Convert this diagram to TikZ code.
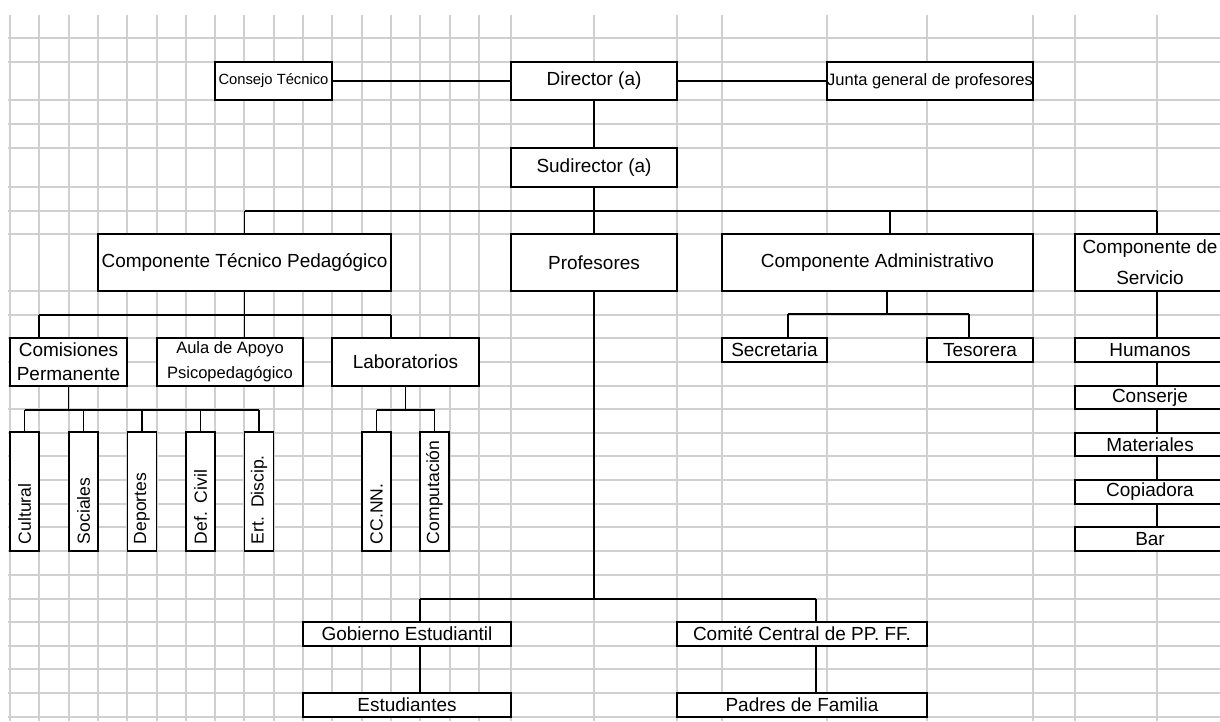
\documentclass[tikz,border=0pt]{standalone}
\usepackage{fontspec}
\setmainfont{Liberation Sans}
\definecolor{gridgray}{RGB}{208,208,208}
\tikzset{
  box/.style 2 args={draw, fill=white, inner sep=0pt, align=center,
    minimum width=#1*0.02cm, minimum height=#2*0.02cm,
    font=\fontsize{10.8}{13.7}\selectfont},
  vbox/.style={draw, fill=white, inner sep=0pt, rotate=90, align=left,
    minimum width=119*0.02cm, minimum height=29*0.02cm, text width=105*0.02cm,
    font=\fontsize{10}{12}\selectfont},
  smalltext/.style={font=\fontsize{9.4}{14.2}\selectfont},
}

\begin{document}
\begin{tikzpicture}[x=0.02cm, y=-0.02cm, line width=0.8pt]
\useasboundingbox (0,0) rectangle (1220,721);
\clip (0,0) rectangle (1220,721);

% sheet grid
\foreach \x in {10,39,69,98,127,157,186,215,244,274,303,332,362,391,420,450,479,511,594,677,722,827,927,1033,1075,1157}
  \draw[gridgray, line width=0.6pt] (\x,15) -- (\x,721);
\foreach \y in {38,62,100,124,148,187,211,234,291,315,338,362,386,409,433,456,480,504,527,551,575,599,622,646,669,693,717}
  \draw[gridgray, line width=0.6pt] (8,\y) -- (1220,\y);

\node[box={117}{38}, font=\fontsize{8.4}{10}\selectfont](CT) at (273.5,81) {Consejo Técnico};
\node[box={166}{38}](Dir) at (594,81) {Director (a)};
\node[box={206}{38}, smalltext](JG) at (930,81) {Junta general de profesores};
\node[box={166}{39}](Sub) at (594,167.5) {Sudirector (a)};

\node[box={293}{57}](CTP) at (244.5,262.5) {Componente Técnico Pedagógico};
\node[box={166}{57}](Prof) at (594,262.5) {Profesores};
\node[box={311}{57}](Adm) at (877.5,262.5) {Componente Administrativo};
\node[box={150}{57}](Serv) at (1150,262.5) {Componente de\\[4pt]Servicio};

\node[box={117}{48}](Com) at (68.5,362) {Comisiones\\Permanente};
\node[box={146}{48}, smalltext](Aula) at (230,362) {Aula de Apoyo\\Psicopedagógico};
\node[box={147}{48}](Lab) at (405.5,362) {Laboratorios};

\node[vbox](Cul) at (24.5,491.5) {Cultural};
\node[vbox](Soc) at (83.5,491.5) {Sociales};
\node[vbox](Dep) at (142,491.5) {Deportes};
\node[vbox](Def) at (200.5,491.5) {Def. Civil};
\node[vbox](Ert) at (259,491.5) {Ert. Discip.};
\node[vbox](CCNN) at (376.5,491.5) {CC.NN.};
\node[vbox](Comp) at (434.5,491.5) {Computación};

\node[box={105}{24}](Sec) at (774.5,350) {Secretaria};
\node[box={106}{24}](Tes) at (980,350) {Tesorera};

\node[box={150}{24}](Hum) at (1150,350) {Humanos};
\node[box={150}{23}](Con) at (1150,397.5) {Conserje};
\node[box={150}{23}](Mat) at (1150,444.5) {Materiales};
\node[box={150}{24}](Cop) at (1150,492) {Copiadora};
\node[box={150}{24}](Bar) at (1150,539) {Bar};

\node[box={208}{24}](Gob) at (407,634) {Gobierno Estudiantil};
\node[box={208}{24}](Est) at (407,705) {Estudiantes};
\node[box={250}{24}](Cmt) at (802,634) {Comité Central de PP. FF.};
\node[box={250}{24}](Pad) at (802,705) {Padres de Familia};

\coordinate (t1) at (244.5,211);
\coordinate (t2) at (1157,211);
\coordinate (t3) at (890,211);
\coordinate (p1) at (39,315);
\coordinate (p2) at (391,315);
\coordinate (q1) at (24.5,410);
\coordinate (q2) at (259,410);
\coordinate (r1) at (376.5,410);
\coordinate (r2) at (434.5,410);
\coordinate (a0) at (887,314);
\coordinate (a1) at (788,314);
\coordinate (a2) at (969,314);
\coordinate (g1) at (420,599);
\coordinate (g2) at (816,599);

\draw (CT) -- (Dir);
\draw (Dir) -- (JG);
\draw (Dir) -- (Sub);
\draw (Sub) -- (Prof);
\draw (t1) -- (t2);
\draw (t1) -- (CTP);
\draw (t3) -- (t3 |- Adm.north);
\draw (t2) -- (t2 |- Serv.north);

\draw (p1) -- (p2);
\draw (CTP) -- (CTP |- Aula.north);
\draw (p1) -- (p1 |- Com.north);
\draw (p2) -- (p2 |- Lab.north);

\draw (q1) -- (q2);
\draw (Com) -- (Com |- q1);
\draw (q1) -- (Cul);
\draw (Soc |- q1) -- (Soc);
\draw (Dep |- q1) -- (Dep);
\draw (Def |- q1) -- (Def);
\draw (q2) -- (Ert);

\draw (Lab) -- (Lab |- r1);
\draw (r1) -- (r2);
\draw (r1) -- (CCNN);
\draw (r2) -- (Comp);

\draw (a0 |- Adm.south) -- (a0);
\draw (a1) -- (a2);
\draw (a1) -- (a1 |- Sec.north);
\draw (a2) -- (a2 |- Tes.north);

\draw (t2 |- Serv.south) -- (t2 |- Hum.north);
\draw (t2 |- Hum.south) -- (t2 |- Con.north);
\draw (t2 |- Con.south) -- (t2 |- Mat.north);
\draw (t2 |- Mat.south) -- (t2 |- Cop.north);
\draw (t2 |- Cop.south) -- (t2 |- Bar.north);

\draw (Prof) -- (Prof |- g1);
\draw (g1) -- (g2);
\draw (g1) -- (g1 |- Gob.north);
\draw (g2) -- (g2 |- Cmt.north);
\draw (g1 |- Gob.south) -- (g1 |- Est.north);
\draw (g2 |- Cmt.south) -- (g2 |- Pad.north);
\end{tikzpicture}
\end{document}
